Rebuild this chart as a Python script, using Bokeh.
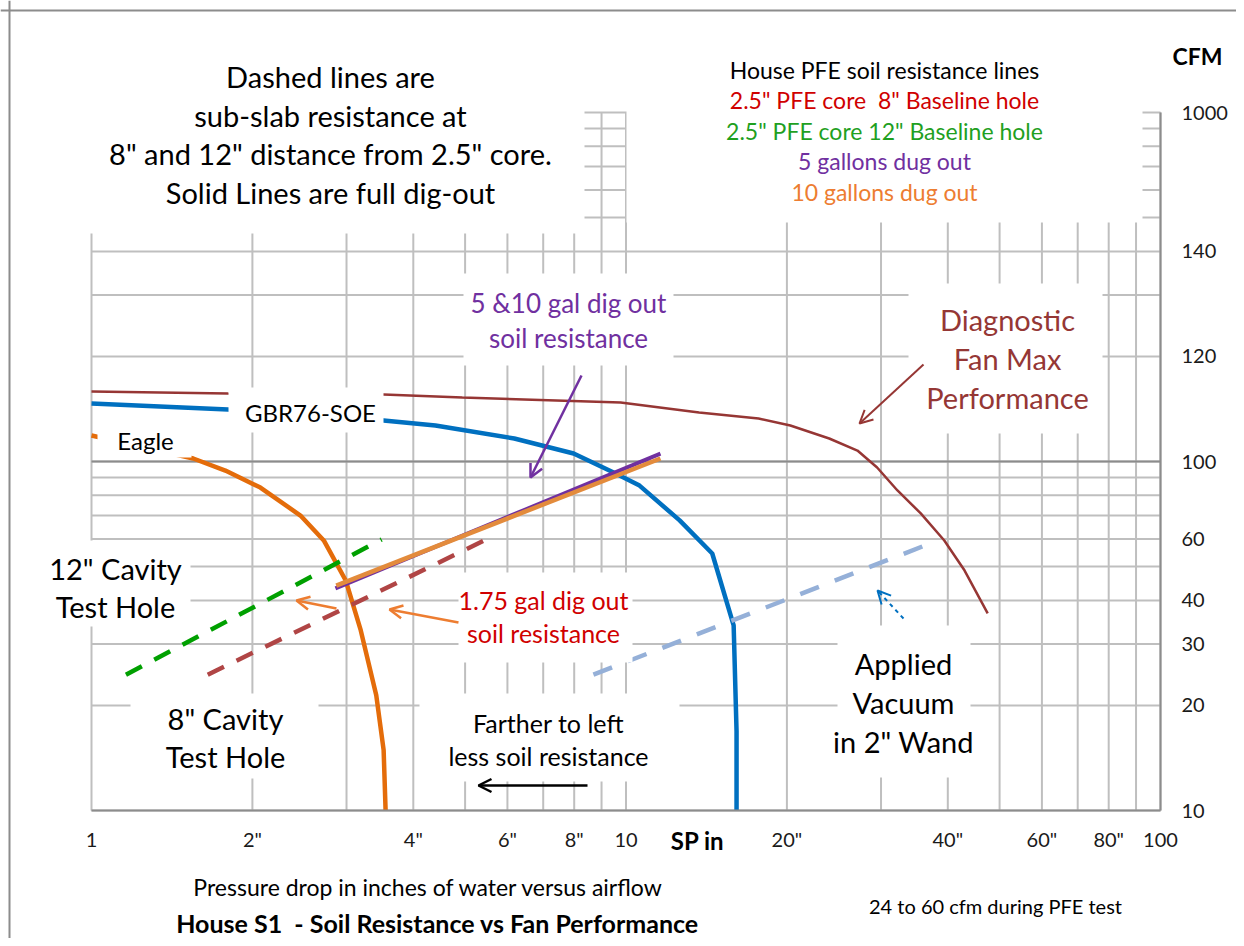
from bokeh.plotting import figure
from bokeh.models import Range1d, FixedTicker, Label, BoxAnnotation, Arrow, OpenHead, Span
from bokeh.embed import file_html
from bokeh.resources import INLINE

# ---------------- data (SP in inches of water, airflow in CFM on the chart's log scale) -------------
fan_sp = [1.0, 1.80, 3.52, 4.94, 9.77, 13.7, 17.7, 20.3, 24.0, 27.1, 29.5, 32.2, 35.6, 39.4, 43.0, 47.5]
fan_cfm = [158.7, 156.6, 155.6, 152.6, 147.6, 138.2, 132.8, 126.8, 116.4, 107.5, 96.1, 82.6, 71.0, 59.4, 48.7, 36.7]

gbr_sp = [1.0, 1.80, 3.52, 4.40, 6.18, 7.98, 9.48, 10.6, 12.6, 14.5, 15.9, 16.1, 16.1]
gbr_cfm = [146.6, 140.9, 131.1, 126.8, 116.4, 105.4, 93.0, 85.3, 67.8, 54.5, 33.9, 16.9, 10.0]

eagle_sp = [1.0, 1.55, 1.78, 2.07, 2.46, 2.72, 2.99, 3.19, 3.41, 3.52, 3.55]
eagle_cfm = [118.7, 102.0, 94.2, 84.2, 70.0, 59.4, 45.6, 32.8, 21.4, 14.9, 10.0]

dig5_sp = [2.86, 11.6]
dig5_cfm = [43.3, 105.4]
dig10_sp = [2.87, 11.6]
dig10_cfm = [44.1, 102.0]

base12_sp = [1.16, 3.49]
base12_cfm = [24.5, 59.8]
base8_sp = [1.65, 5.58]
base8_cfm = [24.5, 60.6]
wand_sp = [8.69, 37.9]
wand_cfm = [24.5, 59.0]

x_ticks = [1, 2, 4, 6, 8, 10, 20, 40, 60, 80, 100]
x_tick_labels = ["1", '2"', '4"', '6"', '8"', "10", '20"', '40"', '60"', '80"', "100"]
y_ticks = [10, 20, 30, 40, 60, 100, 200, 400, 1000]
y_tick_labels = ["10", "20", "30", "40", "60", "100", "120", "140", "1000"]
x_grid = [1, 2, 3, 4, 5, 6, 7, 8, 9, 10, 20, 30, 40, 50, 60, 70, 80, 90, 100]
y_grid = [10, 20, 30, 40, 50, 60, 70, 80, 90, 100, 200, 300, 400, 500, 600, 700, 800, 900, 1000]
x_lim = (1, 100)
y_lim = (10, 1000)

FONT = "Lato"
W, H = 1236, 938

# page-pixel helpers for placing annotations (plot area: x 91..1160, y 112..810)
def PX(px):
    return 10 ** ((px - 91) / 534.5)

def PY(py):
    return 10 ** (1 + (810 - py) / 349)

p = figure(width=W, height=H, x_axis_type="log", y_axis_type="log",
           x_range=Range1d(PX(0), PX(W)), y_range=Range1d(PY(H), PY(0)),
           y_axis_location="right", output_backend="svg", toolbar_location=None,
           min_border_left=0, min_border_right=0, min_border_top=0, min_border_bottom=0)
p.outline_line_color = None
p.background_fill_color = "white"
p.border_fill_color = "white"
p.xgrid.visible = False
p.ygrid.visible = False

# axes, drawn at the edges of the plotting area
xa = p.xaxis[0]
xa.fixed_location = y_lim[0]
xa.bounds = x_lim
xa.ticker = FixedTicker(ticks=x_ticks)
xa.major_label_overrides = {t: s for t, s in zip(x_ticks, x_tick_labels)}
xa.minor_tick_line_color = None
xa.major_tick_line_color = None
xa.axis_line_color = "#8C8C8C"
xa.axis_line_width = 2
xa.major_label_standoff = 10
xa.major_label_text_font = FONT
xa.major_label_text_font_size = "20px"
xa.major_label_text_color = "#1a1a1a"

ya = p.yaxis[0]
ya.fixed_location = x_lim[1]
ya.bounds = y_lim
ya.ticker = FixedTicker(ticks=y_ticks)
ya.major_label_overrides = {t: s for t, s in zip(y_ticks, y_tick_labels)}
ya.minor_tick_line_color = None
ya.major_tick_line_color = None
ya.axis_line_color = "#8C8C8C"
ya.axis_line_width = 2
ya.major_label_standoff = 15
ya.major_label_text_font = FONT
ya.major_label_text_font_size = "20px"
ya.major_label_text_color = "#1a1a1a"

# grid lines of the log-log plotting area
p.segment(x0=x_grid, y0=[y_lim[0]] * len(x_grid), x1=x_grid, y1=[y_lim[1]] * len(x_grid),
          line_color="#BFBFBF", line_width=2)
p.segment(x0=[x_lim[0]] * len(y_grid), y0=y_grid, x1=[x_lim[1]] * len(y_grid), y1=y_grid,
          line_color="#BFBFBF", line_width=2)
p.segment(x0=[x_lim[0]], y0=[100], x1=[x_lim[1]], y1=[100], line_color="#8C8C8C", line_width=2)

# data lines
p.line(fan_sp, fan_cfm, line_color="#963634", line_width=2.5)
p.line(gbr_sp, gbr_cfm, line_color="#0070C0", line_width=4.5)
p.line(eagle_sp, eagle_cfm, line_color="#E46C0A", line_width=4.5)
p.line(dig5_sp, dig5_cfm, line_color="#7030A0", line_width=4)
p.line(dig10_sp, dig10_cfm, line_color="#E38B3C", line_width=4.5)
p.line(base12_sp, base12_cfm, line_color="#00A000", line_width=4.5, line_dash="18 14")
p.line(base8_sp, base8_cfm, line_color="#B04545", line_width=4.5, line_dash="18 14")
p.line(wand_sp, wand_cfm, line_color="#95B0D8", line_width=4.5, line_dash="20 17")

# white text-box covers (page px: left, right, top, bottom)
covers = [
    (20, 584, 20, 233),
    (626, 1142, 20, 222),
    (463, 673, 273, 365),
    (908, 1102, 283, 433),
    (228, 383, 387, 432),
    (97, 191, 419, 457),
    (35, 190, 540, 626),
    (130, 318, 693, 778),
    (458, 632, 572, 662),
    (419, 679, 693, 781),
    (837, 970, 625, 777),
]
for l, r, t, b in covers:
    p.add_layout(BoxAnnotation(left=PX(l), right=PX(r), top=PY(t), bottom=PY(b),
                               fill_color="white", fill_alpha=1.0, line_color=None))

# outer chart border (top and left edges)
p.add_layout(Span(location=PY(10), dimension="width", line_color="#8C8C8C", line_width=2))
p.add_layout(Span(location=PX(9), dimension="height", line_color="#8C8C8C", line_width=2))

# arrows
def arrow(x0, y0, x1, y1, color, width, dash="solid"):
    p.add_layout(Arrow(x_start=PX(x0), y_start=PY(y0), x_end=PX(x1), y_end=PY(y1),
                       line_color=color, line_width=width, line_dash=dash,
                       end=OpenHead(size=13, line_color=color, line_width=width)))

arrow(581, 375, 530, 477, "#7030A0", 2.5)
arrow(923, 364, 859, 423, "#963634", 2)
arrow(336, 608, 296, 600, "#ED7D31", 2.5)
arrow(458, 622, 389, 609, "#ED7D31", 2.5)
arrow(903, 618, 877, 590, "#0070C0", 2, "4 4")
arrow(587, 785, 478, 785, "black", 2.5)

# texts
def text(px, py, s, size, color="black", bold=False, lh=1.2):
    p.add_layout(Label(x=PX(px), y=PY(py), text=s, text_align="center", text_baseline="middle",
                       text_font=FONT, text_font_size=f"{size}px", text_color=color,
                       text_font_style="bold" if bold else "normal", text_line_height=lh))

text(330, 134, 'Dashed lines are\nsub-slab resistance at\n8" and 12" distance from 2.5" core.\nSolid Lines are full dig-out', 29, lh=1.11)
text(884, 69, "House PFE soil resistance lines", 23)
text(884, 99, '2.5" PFE core\u00a0 8" Baseline hole', 23, "#D00000")
text(884, 130, '2.5" PFE core 12" Baseline hole', 23, "#1FA01F")
text(884, 160, "5 gallons dug out", 23, "#7030A0")
text(884, 191, "10 gallons dug out", 23, "#ED7D31")
text(1197, 55, "CFM", 23, bold=True)
text(568, 320, "5 &10 gal dig out\nsoil resistance", 26, "#7030A0", lh=1.12)
text(1007, 358, "Diagnostic\nFan Max\nPerformance", 29, "#953735", lh=1.11)
text(310, 412, "GBR76-SOE", 24)
text(145, 440, "Eagle", 24)
text(115, 587, '12" Cavity\nTest Hole', 29, lh=1.06)
text(225, 737, '8" Cavity\nTest Hole', 29, lh=1.09)
text(543, 616, "1.75 gal dig out\nsoil resistance", 25, "#D00000", lh=1.07)
text(548, 739, "Farther to left\nless soil resistance", 25, lh=1.11)
text(903, 702, 'Applied\nVacuum\nin 2" Wand', 29, lh=1.11)
text(697, 840, "SP in", 24, bold=True)
text(428, 886, "Pressure drop in inches of water versus airflow", 23)
text(437, 922, "House S1\u00a0 - Soil Resistance vs Fan Performance", 25, bold=True)
text(995, 905, "24 to 60 cfm during PFE test", 20)

open("out.html", "w").write(file_html(p, INLINE))
